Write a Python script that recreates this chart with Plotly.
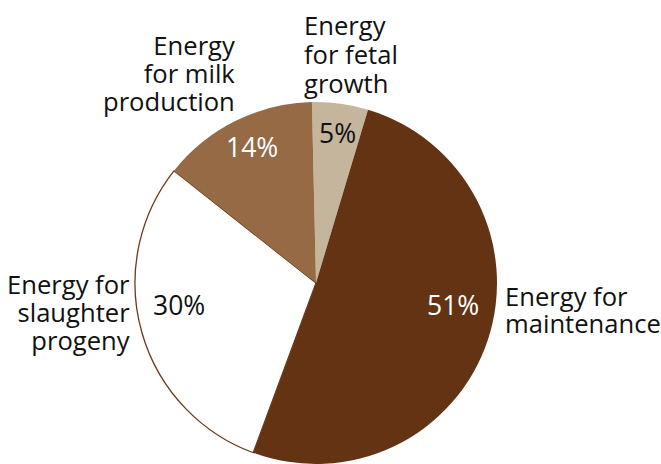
import plotly.graph_objects as go

# ---- data ----
categories = ["Energy for fetal growth", "Energy for maintenance",
              "Energy for slaughter progeny", "Energy for milk production"]
values = [5, 51, 30, 14]
label_lines = [["Energy", "for fetal", "growth"],
               ["Energy for", "maintenance"],
               ["Energy for", "slaughter", "progeny"],
               ["Energy", "for milk", "production"]]

# ---- styles ----
colors = ["#C4B59C", "#633314", "#FFFFFF", "#956A44"]
line_widths = [0, 0, 1.3, 0]
pct_colors = ["#111111", "#FFFFFF", "#111111", "#FFFFFF"]
FONT = "Open Sans"
W, H = 661, 464

# label placement (pixel): x anchor, side, first baseline, line spacing
label_pos = [(302, "left", 34, 29), (503, "left", 305, 27),
             (132, "right", 293, 28), (237, "right", 54, 28)]
pct_pos = [(337, 133), (452.5, 304.5), (179, 305), (252, 147)]
FS = 25.6
PFS = 26.5
ASC = 1.069

cx, cy, r = 316, 283, 181

fig = go.Figure(go.Pie(
    labels=categories, values=values, sort=False, direction="clockwise",
    rotation=-1.3, textinfo="none", hoverinfo="skip",
    marker=dict(colors=colors, line=dict(color="#6B3A1A", width=line_widths)),
    domain=dict(x=[(cx - r) / W, (cx + r) / W], y=[(H - cy - r) / H, (H - cy + r) / H]),
    showlegend=False,
))

ann = []
for lines, (x, side, b0, sp) in zip(label_lines, label_pos):
    txt = "<br>".join(f"<span style='font-size:{FS}px'>{t}</span>" for t in lines)
    ytop = b0 - ASC * FS - 1
    ann.append(dict(text=txt, x=x / W, y=1 - ytop / H, xref="paper", yref="paper",
                    xanchor=side, yanchor="top", align=side, showarrow=False,
                    font=dict(family=FONT, size=sp / 1.3, color="#111111")))
for v, (x, y), c in zip(values, pct_pos, pct_colors):
    ann.append(dict(text=f"{v}%", x=x / W, y=1 - y / H, xref="paper", yref="paper",
                    xanchor="center", yanchor="middle", showarrow=False,
                    font=dict(family=FONT, size=PFS, color=c)))

fig.update_layout(width=W, height=H, margin=dict(l=0, r=0, t=0, b=0),
                  paper_bgcolor="white", plot_bgcolor="white", annotations=ann)
fig.write_html("out.html", config={"displayModeBar": False},
               post_script="document.body.style.margin='0';document.body.style.overflow='hidden';")
